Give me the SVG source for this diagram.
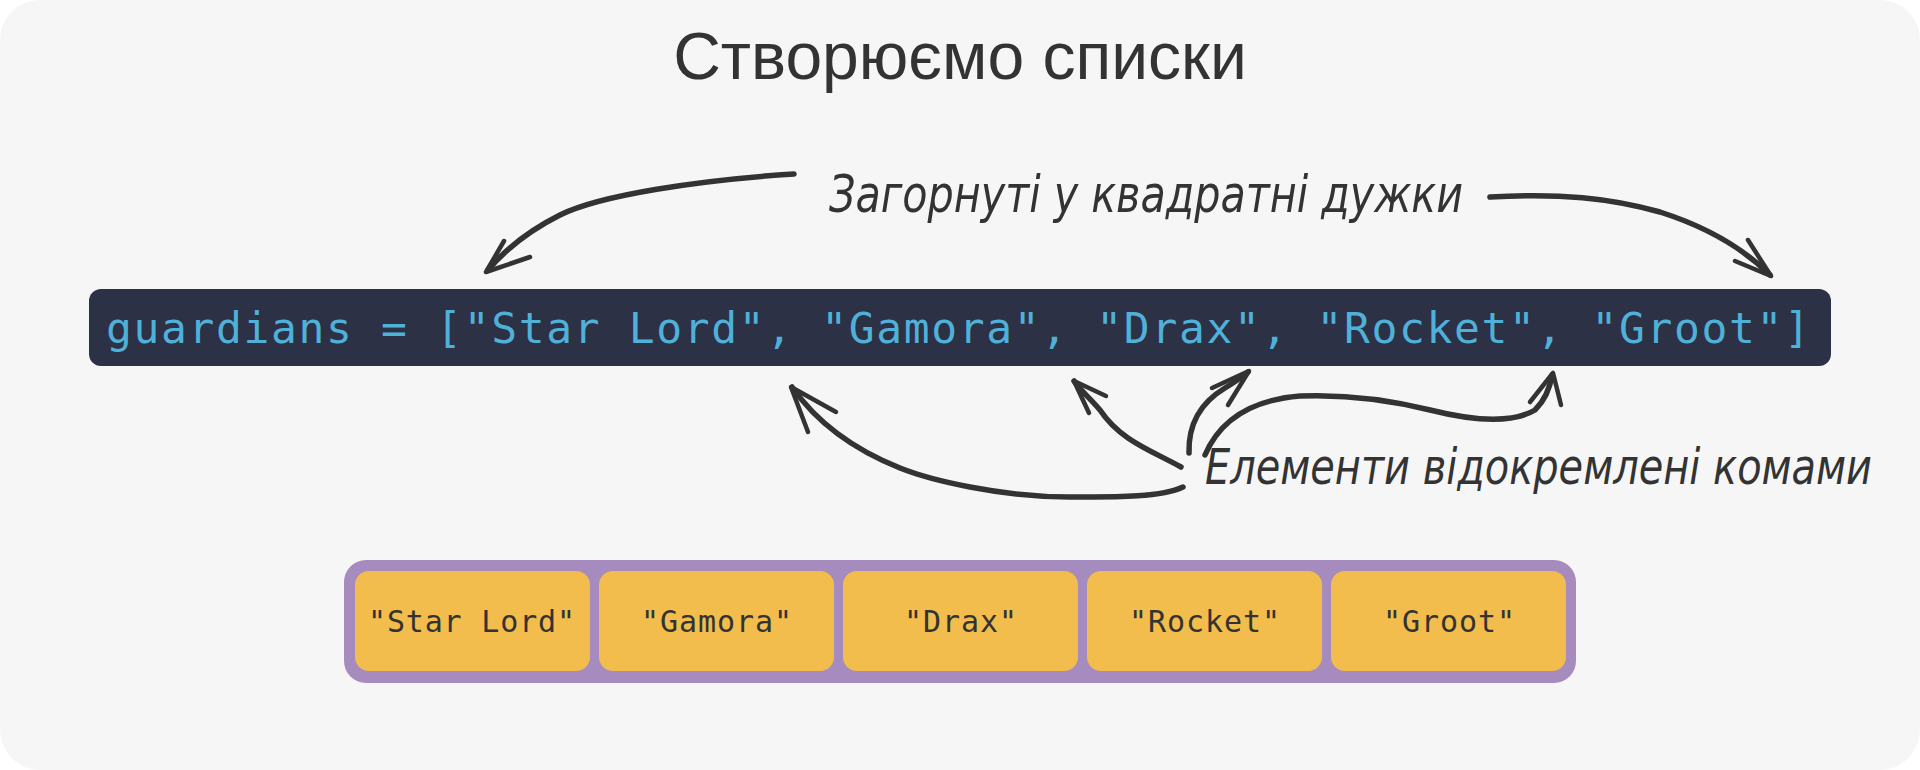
<svg xmlns="http://www.w3.org/2000/svg" width="1920" height="770" viewBox="0 0 1920 770">
<style>
.title{font-family:"Liberation Sans",Arial,sans-serif;font-size:66px;fill:#333333}
.code{font-family:"DejaVu Sans Mono",monospace;font-size:43px;fill:#4fb0d8}
.hand{font-family:"DejaVu Sans",sans-serif;font-style:italic;font-stretch:condensed;fill:#333333}
.item{font-family:"DejaVu Sans Mono",monospace;font-size:30px;fill:#333333}
.box{fill:#f2bd4c}
.arr{fill:none;stroke:#333333;stroke-width:5.5;stroke-linecap:round;stroke-linejoin:round}
.head{fill:none;stroke:#333333;stroke-width:4.5;stroke-linecap:round;stroke-linejoin:round}
</style>
<rect x="0" y="0" width="1920" height="770" fill="#ffffff"/>
<rect x="0" y="0" width="1920" height="770" rx="40" fill="#f6f6f6"/>
<g id="title"><text class="title" x="960" y="79" text-anchor="middle">Створюємо списки</text></g>
<g id="code">
<rect x="89" y="289" width="1742" height="77" rx="12" fill="#2c3146"/>
<text class="code" x="106" y="343" textLength="1704" lengthAdjust="spacing">guardians = ["Star Lord", "Gamora", "Drax", "Rocket", "Groot"]</text>
</g>
<g id="label-top"><text class="hand" x="829" y="212" font-size="52" textLength="634" lengthAdjust="spacingAndGlyphs">Загорнуті у квадратні дужки</text></g>
<g id="label-bottom"><text class="hand" x="1205" y="484" font-size="50" textLength="667" lengthAdjust="spacingAndGlyphs">Елементи відокремлені комами</text></g>
<g id="list">
<rect x="344" y="560" width="1232" height="123" rx="22" fill="#a68cbe"/>
<g id="item1"><rect class="box" x="355" y="571" width="235" height="100" rx="14"/><text class="item" x="368" y="632" textLength="207" lengthAdjust="spacing">"Star Lord"</text></g>
<g id="item2"><rect class="box" x="599" y="571" width="235" height="100" rx="14"/><text class="item" x="641" y="632" textLength="151" lengthAdjust="spacing">"Gamora"</text></g>
<g id="item3"><rect class="box" x="843" y="571" width="235" height="100" rx="14"/><text class="item" x="904" y="632" textLength="113" lengthAdjust="spacing">"Drax"</text></g>
<g id="item4"><rect class="box" x="1087" y="571" width="235" height="100" rx="14"/><text class="item" x="1129" y="632" textLength="151" lengthAdjust="spacing">"Rocket"</text></g>
<g id="item5"><rect class="box" x="1331" y="571" width="235" height="100" rx="14"/><text class="item" x="1383" y="632" textLength="132" lengthAdjust="spacing">"Groot"</text></g>
</g>
<g id="connectors">
<path class="arr" d="M794,174 C 700,180 600,195 560,215 C 530,230 505,250 488,270"/>
<path class="head" d="M504,241 L486,272 L530,257"/>
<path class="arr" d="M1490,197 C 1560,193 1610,198 1660,212 C 1710,228 1745,250 1770,275"/>
<path class="head" d="M1748,240 L1771,276 L1735,261"/>
<path class="arr" d="M1183,487 C 1160,498 1110,497 1070,497 C 1000,497 930,480 900,468 C 850,448 815,420 792,387"/>
<path class="head" d="M808,432 L791,387 L836,412"/>
<path class="arr" d="M1181,467 C 1150,450 1120,440 1100,410 C 1090,398 1080,390 1074,381"/>
<path class="head" d="M1089,413 L1074,381 L1106,396"/>
<path class="arr" d="M1189,453 C 1188,420 1205,400 1225,388 C 1235,382 1242,377 1248,372"/>
<path class="head" d="M1212,388 L1249,371 L1228,405"/>
<path class="arr" d="M1205,455 C 1220,420 1250,400 1300,396 C 1350,394 1390,400 1430,410 C 1470,420 1510,425 1535,410 C 1545,400 1550,388 1552,375" stroke-width="7"/>
<path class="head" d="M1530,402 L1553,373 L1561,405"/>
</g>
</svg>
